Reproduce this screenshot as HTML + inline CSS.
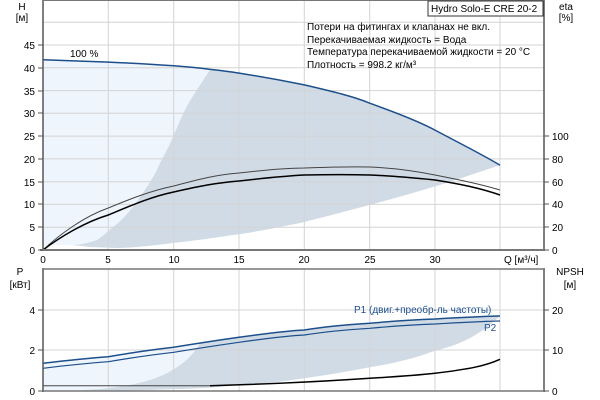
<!DOCTYPE html>
<html><head><meta charset="utf-8"><style>
html,body{margin:0;padding:0;background:#fff;}
svg{display:block;font-family:"Liberation Sans",sans-serif;font-size:10px;}
</style></head><body>
<svg width="600" height="400" viewBox="0 0 600 400" xmlns="http://www.w3.org/2000/svg">
<!-- top plot fills -->
<path d="M43,245 L43,59.8 C80,61 95,61.5 108.3,62.1 C140,63.5 160,64.8 173.7,65.8 C190,67 200,68 210.3,69.4 C200,85 190,100 185,110 C180,120 176,130 173,137 C165,155 160,162 157,170 C150,183 145,190 140,197 C130,212 120,222 113,227 C105,234 100,238 97,240 C88,243 80,245 72,245 Z" fill="#eef5fc"/>
<path d="M210.3,69.4 C225,71 232,72 239,73.1 C270,78 290,82 304.3,84.9 C335,92 355,97 369.7,103.2 C400,114 420,122 435,130.1 C465,146 485,156 500,165.2 C470,175 450,182 433,187 C390,200 340,213 300,223 C270,229 250,233 233,235 C200,240 190,241 173,243 C150,246 130,248 117,248 L90,247 L72,245 C80,245 88,243 97,240 C100,238 105,234 113,227 C120,222 130,212 140,197 C145,190 150,183 157,170 C160,162 165,155 173,137 C176,130 180,120 185,110 C190,100 200,85 210.3,69.4 Z" fill="#d0dbe6"/>
<!-- grid top -->
<g stroke="#d4d4d4" stroke-width="1">
<line x1="108.3" y1="0" x2="108.3" y2="250"/><line x1="173.7" y1="0" x2="173.7" y2="250"/><line x1="239" y1="0" x2="239" y2="250"/><line x1="304.3" y1="0" x2="304.3" y2="250"/><line x1="369.7" y1="0" x2="369.7" y2="250"/><line x1="435" y1="0" x2="435" y2="250"/><line x1="500" y1="0" x2="500" y2="250"/>
<line x1="43" y1="227.2" x2="544" y2="227.2"/><line x1="43" y1="204.4" x2="544" y2="204.4"/><line x1="43" y1="181.7" x2="544" y2="181.7"/><line x1="43" y1="158.9" x2="544" y2="158.9"/><line x1="43" y1="136.1" x2="544" y2="136.1"/><line x1="43" y1="113.3" x2="544" y2="113.3"/><line x1="43" y1="90.6" x2="544" y2="90.6"/><line x1="43" y1="67.8" x2="544" y2="67.8"/><line x1="43" y1="45" x2="544" y2="45"/><line x1="43" y1="22.2" x2="544" y2="22.2"/>
</g>
<!-- curves top -->
<path d="M43,59.8 C80,61 95,61.5 108.3,62.1 C140,63.5 160,64.8 173.7,65.8 C190,67 200,68 210.3,69.4 C225,71 232,72 239,73.1 C270,78 290,82 304.3,84.9 C335,92 355,97 369.7,103.2 C400,114 420,122 435,130.1 C465,146 485,156 500,165.2" fill="none" stroke="#1d4f8a" stroke-width="1.5"/>
<path d="M43,250 C60,234 85,216 108.3,208 C130,199 150,191 173.7,186 C200,179 215,175 239,173 C265,170 285,168 304.3,168 C330,167 350,166.5 369.7,167 C395,168 415,171 435,175 C460,180 480,184 500,190" fill="none" stroke="#444" stroke-width="1"/>
<path d="M43,250 C60,237 85,222 108.3,215 C130,206 150,197 173.7,192 C200,186 215,183 239,181 C265,178 285,176 304.3,175 C330,174.5 350,174.5 369.7,175 C395,176 415,178 435,180 C460,184 480,188 500,195" fill="none" stroke="#000" stroke-width="1.5"/>
<!-- frame top -->
<line x1="43" y1="0" x2="43" y2="251" stroke="#555" stroke-width="1.5"/>
<line x1="544" y1="0" x2="544" y2="251" stroke="#555" stroke-width="1.5"/>
<line x1="40" y1="250" x2="544" y2="250" stroke="#777" stroke-width="2"/>
<line x1="43" y1="0.5" x2="544" y2="0.5" stroke="#777"/>
<g font-size="10" fill="#000" text-anchor="end">
<text x="35" y="254">0</text><text x="35" y="231">5</text><text x="35" y="208">10</text><text x="35" y="186">15</text><text x="35" y="163">20</text><text x="35" y="140">25</text><text x="35" y="117">30</text><text x="35" y="95">35</text><text x="35" y="72">40</text><text x="35" y="49">45</text>
</g>
<g stroke="#555"><line x1="38" y1="250" x2="43" y2="250"/><line x1="38" y1="227" x2="43" y2="227"/><line x1="38" y1="204" x2="43" y2="204"/><line x1="38" y1="182" x2="43" y2="182"/><line x1="38" y1="159" x2="43" y2="159"/><line x1="38" y1="136" x2="43" y2="136"/><line x1="38" y1="113" x2="43" y2="113"/><line x1="38" y1="91" x2="43" y2="91"/><line x1="38" y1="68" x2="43" y2="68"/><line x1="38" y1="45" x2="43" y2="45"/>
<line x1="544" y1="250" x2="549" y2="250"/><line x1="544" y1="227" x2="549" y2="227"/><line x1="544" y1="204" x2="549" y2="204"/><line x1="544" y1="182" x2="549" y2="182"/><line x1="544" y1="159" x2="549" y2="159"/><line x1="544" y1="136" x2="549" y2="136"/></g>
<g font-size="10"><text x="552" y="254">0</text><text x="552" y="231">20</text><text x="552" y="208">40</text><text x="552" y="186">60</text><text x="552" y="163">80</text><text x="552" y="140">100</text></g>
<g font-size="10" text-anchor="middle"><text x="43" y="263">0</text><text x="108" y="263">5</text><text x="174" y="263">10</text><text x="239" y="263">15</text><text x="304" y="263">20</text><text x="370" y="263">25</text><text x="435" y="263">30</text></g>
<text x="504" y="263" font-size="10">Q [м³/ч]</text>
<text x="22" y="10" text-anchor="middle">H</text><text x="22" y="21" text-anchor="middle">[м]</text>
<text x="566" y="10" text-anchor="middle">eta</text><text x="566" y="21" text-anchor="middle">[%]</text>
<text x="70" y="57">100 %</text>
<rect x="428" y="1" width="115" height="15" fill="#fff" stroke="#333"/>
<text x="431" y="12">Hydro Solo-E CRE 20-2</text>
<text x="307" y="30">Потери на фитингах и клапанах не вкл.</text>
<text x="307" y="43">Перекачиваемая жидкость = Вода</text>
<text x="307" y="55">Температура перекачиваемой жидкости = 20 °C</text>
<text x="307" y="68">Плотность = 998.2 кг/м³</text>
<!-- bottom plot -->
<path d="M43,363.3 C70,360 90,358 108.3,356.7 C130,353 150,350 173.7,347.3 C185,345.5 193,344.5 200,343 C192,358 175,372 150,380 C130,386 110,389 70,391 L43,391 Z" fill="#eef5fc"/>
<path d="M200,343 C220,340 230,338.5 239,337.3 C270,333 290,330.5 304.3,330 C330,326 350,324.5 369.7,323.3 C400,320.5 420,319.5 435,319 C460,317.5 480,316.5 500,316 C480,335 460,345 437,350 C410,360 390,364 371,367 C340,373 320,376 306,378 C280,382 260,384 240,385 C210,388 190,389 175,389 C150,390 120,391 92,391 L70,391 C110,389 130,386 150,380 C175,372 192,358 200,343 Z" fill="#d0dbe6"/>
<g stroke="#d4d4d4"><line x1="108.3" y1="269" x2="108.3" y2="391"/><line x1="173.7" y1="269" x2="173.7" y2="391"/><line x1="239" y1="269" x2="239" y2="391"/><line x1="304.3" y1="269" x2="304.3" y2="391"/><line x1="369.7" y1="269" x2="369.7" y2="391"/><line x1="435" y1="269" x2="435" y2="391"/><line x1="500" y1="269" x2="500" y2="391"/>
<line x1="43" y1="350" x2="544" y2="350"/><line x1="43" y1="310" x2="544" y2="310"/></g>
<path d="M43,363.3 C70,360 90,358 108.3,356.7 C130,353 150,350 173.7,347.3 C200,343 220,340 239,337.3 C270,333 290,330.5 304.3,330 C330,326 350,324.5 369.7,323.3 C400,320.5 420,319.5 435,319 C460,317.5 480,316.5 500,316" fill="none" stroke="#1d4f8a" stroke-width="1.5"/>
<path d="M43,368.3 C70,365 90,363 108.3,361.7 C130,358 150,355 173.7,352.3 C200,348 220,345 239,342.3 C270,338 290,335.5 304.3,335 C330,331 350,329.5 369.7,328.3 C400,325.5 420,324.5 435,324 C460,322.5 480,321.5 500,321" fill="none" stroke="#1d4f8a" stroke-width="1.2"/>
<line x1="43" y1="385.7" x2="210" y2="385.7" stroke="#444" stroke-width="1"/>
<path d="M210,385.7 C270,384 330,381 369.7,378.3 C400,376.5 420,375 435,373.3 C470,369 485,366 500,359.3" fill="none" stroke="#000" stroke-width="1.5"/>
<line x1="43" y1="268" x2="43" y2="392" stroke="#555" stroke-width="1.5"/>
<line x1="544" y1="268" x2="544" y2="392" stroke="#555" stroke-width="1.5"/>
<line x1="43" y1="269" x2="544" y2="269" stroke="#777" stroke-width="1.5"/>
<line x1="43" y1="391" x2="544" y2="391" stroke="#777" stroke-width="1.5"/>
<g stroke="#555"><line x1="38" y1="391" x2="43" y2="391"/><line x1="38" y1="350" x2="43" y2="350"/><line x1="38" y1="310" x2="43" y2="310"/><line x1="544" y1="391" x2="549" y2="391"/><line x1="544" y1="350" x2="549" y2="350"/><line x1="544" y1="310" x2="549" y2="310"/></g>
<g text-anchor="end"><text x="35" y="395">0</text><text x="35" y="354">2</text><text x="35" y="314">4</text></g>
<text x="552" y="395">0</text><text x="552" y="354">10</text><text x="552" y="314">20</text>
<text x="20" y="275" text-anchor="middle">P</text><text x="20" y="288" text-anchor="middle">[кВт]</text>
<text x="570" y="275" text-anchor="middle">NPSH</text><text x="570" y="288" text-anchor="middle">[м]</text>
<text x="354" y="313" fill="#1d4f8a">P1 (двиг.+преобр-ль частоты)</text>
<text x="484" y="331" fill="#1d4f8a">P2</text>
</svg>
</body></html>
